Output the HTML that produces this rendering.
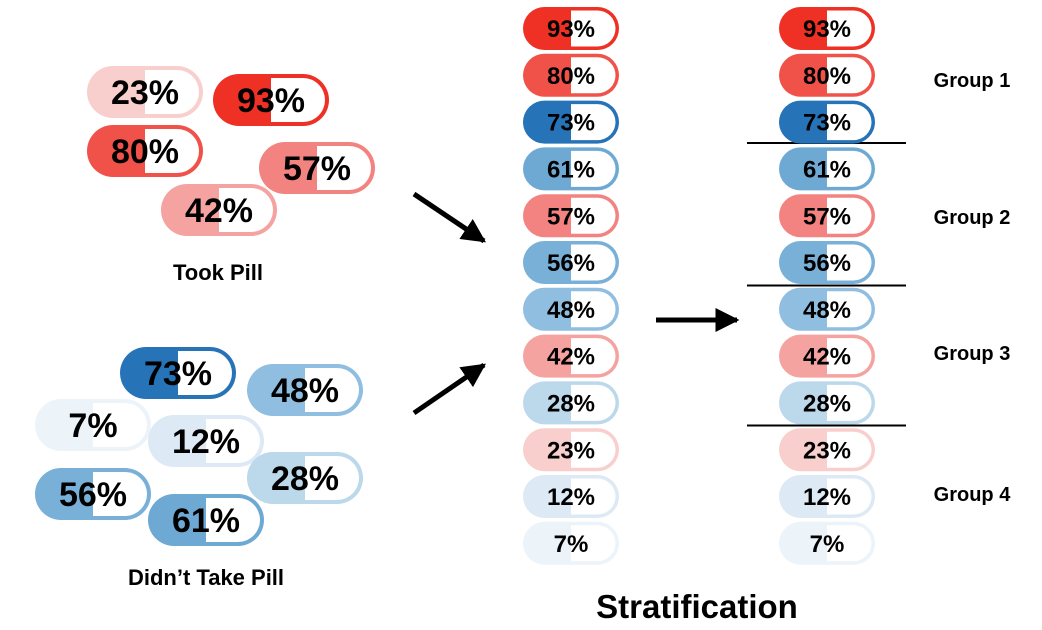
<!DOCTYPE html>
<html><head><meta charset="utf-8"><style>
html,body{margin:0;padding:0;background:#fff;}
svg{display:block;font-family:"Liberation Sans",sans-serif;font-weight:bold;}
</style></head><body>
<svg id="c" width="1042" height="630" viewBox="0 0 1042 630">
<defs>
<marker id="ah" viewBox="0 0 10 10" refX="9" refY="5" markerWidth="4.8" markerHeight="4.8" orient="auto"><path d="M0,0 L10,5 L0,10 z" fill="#000"/></marker>
</defs>
<g id="arrows">
<line x1="414" y1="194" x2="484" y2="241" stroke="#000" stroke-width="5" marker-end="url(#ah)"/>
<line x1="414" y1="413" x2="484" y2="365" stroke="#000" stroke-width="5" marker-end="url(#ah)"/>
<line x1="656" y1="320" x2="737" y2="320" stroke="#000" stroke-width="5" marker-end="url(#ah)"/>
</g>
<g>
<line x1="747" y1="143" x2="906" y2="143" stroke="#000" stroke-width="2"/>
<line x1="747" y1="285.5" x2="906" y2="285.5" stroke="#000" stroke-width="2"/>
<line x1="747" y1="425.5" x2="906" y2="425.5" stroke="#000" stroke-width="2"/>
</g>
<text x="218" y="280" font-size="22" text-anchor="middle">Took Pill</text>
<text x="206" y="585" font-size="22" text-anchor="middle">Didn’t Take Pill</text>
<text x="697" y="618" font-size="33" text-anchor="middle">Stratification</text>
<text x="972" y="87" font-size="20" text-anchor="middle">Group 1</text>
<text x="972" y="224" font-size="20" text-anchor="middle">Group 2</text>
<text x="972" y="360" font-size="20" text-anchor="middle">Group 3</text>
<text x="972" y="501" font-size="20" text-anchor="middle">Group 4</text>
<g id="pills"></g>
</svg>
<script>
const sortedValues=[93,80,73,61,57,56,48,42,28,23,12,7];
const tookPill=[23,93,80,57,42];
const tookX=[87,213,87,259,161];
const tookY=[66,74,125,142,184];
const noPill=[73,48,7,12,28,56,61];
const noX=[120,247,35,148,247,35,148];
const noY=[347,364,399,415,452,468,494];
const colors={93:"#ee3124",80:"#f0524a",57:"#f28380",42:"#f5a3a0",23:"#f9cfcd",73:"#2673b8",61:"#6ea9d4",56:"#78b0d8",48:"#8fbee0",28:"#bcd8eb",12:"#dde9f5",7:"#ecf3f9"};
const NS="http://www.w3.org/2000/svg";
const g=document.getElementById('pills');
function pill(v,x,y,w,h,sw,fs){
  const grp=document.createElementNS(NS,'g');
  
  
  const c=colors[v];
  const r=h/2;
  const bg=document.createElementNS(NS,'rect');
  bg.setAttribute('x',x);bg.setAttribute('y',y);bg.setAttribute('width',w);bg.setAttribute('height',h);bg.setAttribute('rx',r);bg.setAttribute('fill',c);
  grp.appendChild(bg);
  const inner=document.createElementNS(NS,'path');
  const ix=x+w/2, iy=y+sw, ih=h-2*sw, ir=ih/2, iw=w/2-sw;
  inner.setAttribute('d',`M${ix},${iy} H${ix+iw-ir} A${ir},${ir} 0 0 1 ${ix+iw-ir},${iy+ih} H${ix} Z`);
  inner.setAttribute('fill','#fff');
  grp.appendChild(inner);
  const t=document.createElementNS(NS,'text');
  t.setAttribute('x',x+w/2);t.setAttribute('y',y+h/2+fs*0.36);t.setAttribute('font-size',fs);t.setAttribute('text-anchor','middle');
  t.textContent=v+'%';
  grp.appendChild(t);
  g.appendChild(grp);
}
tookPill.forEach((v,i)=>pill(v,tookX[i],tookY[i],116,52,4,34));
noPill.forEach((v,i)=>pill(v,noX[i],noY[i],116,52,4,34));
sortedValues.forEach((v,i)=>{
  pill(v,523,7+i*46.8,96,43,3.5,24);
  pill(v,779,7+i*46.8,96,43,3.5,24);
});
</script>
</body></html>
